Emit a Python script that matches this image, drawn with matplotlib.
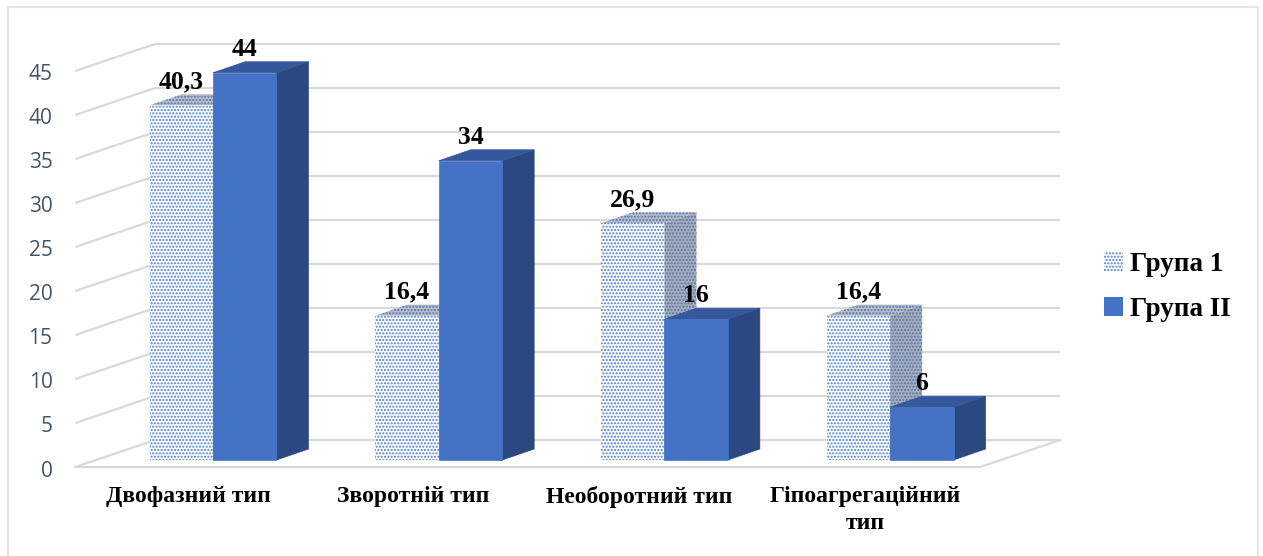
import matplotlib.pyplot as plt
from matplotlib.patches import Polygon, Patch, Rectangle
import numpy as np

categories = ["Двофазний тип", "Зворотній тип", "Необоротний тип", "Гіпоагрегаційний\nтип"]
series_names = ["Група 1", "Група II"]
group1 = [40.3, 16.4, 26.9, 16.4]
group2 = [44, 34, 16, 6]
label1 = ["40,3", "16,4", "26,9", "16,4"]
label2 = ["44", "34", "16", "6"]
yticks = [0, 5, 10, 15, 20, 25, 30, 35, 40, 45]

plt.rcParams['font.family'] = ['Liberation Serif', 'DejaVu Serif']

fig = plt.figure(figsize=(12.63, 5.56), dpi=100)
ax = fig.add_axes([60 / 1263, 86 / 556, 1010 / 1263, 440 / 556])
ax.set_xlim(-0.678, 3.797)
ax.set_ylim(-1.136, 48.86)
ax.axis('off')

# outer frame (open at the bottom)
fig.patches.append(Rectangle((7.5 / 1263, -0.05), 1250 / 1263, 1.05 - 6.5 / 556,
                             transform=fig.transFigure, fill=False,
                             edgecolor='#e1e4e9', linewidth=1.5))

# 3d box: wall depth and bar depth in data units
wall_dx, wall_dy = 0.3545, 3.07
front_dy = -0.8
wall_left = -0.611
floor_right = 3.398
bar_w = 0.281
bar_dx, bar_dy = 0.1418, 1.25

grid_col = '#d9d9d9'
for v in yticks:
    yf = v + front_dy
    yb = yf + wall_dy
    ax.plot([wall_left, wall_left + wall_dx, floor_right + wall_dx], [yf, yb, yb],
            color=grid_col, lw=1.6, zorder=1, solid_capstyle='butt')
    ax.text(wall_left - 0.1, yf - 0.45, str(v), ha='right', va='center',
            fontsize=15, color='#44546a', family=['Open Sans', 'DejaVu Sans'])
# floor front edge
ax.plot([wall_left, floor_right, floor_right + wall_dx], [front_dy, front_dy, front_dy + wall_dy],
        color=grid_col, lw=1.6, zorder=1)

g1_style = dict(front=('white', '#4a7bd0'), top=('#b9bec6', '#4f74b8'), side=('#a9aeb6', '#4f74b8'))
g2_style = dict(front=('#4472c4', None), top=('#35589c', None), side=('#2b4882', None))


def draw_bar(x0, h, style, z):
    x1 = x0 + bar_w
    faces = {
        'side': [(x1, 0), (x1 + bar_dx, bar_dy), (x1 + bar_dx, h + bar_dy), (x1, h)],
        'top': [(x0, h), (x0 + bar_dx, h + bar_dy), (x1 + bar_dx, h + bar_dy), (x1, h)],
        'front': [(x0, 0), (x0, h), (x1, h), (x1, 0)],
    }
    for k, name in enumerate(['side', 'top', 'front']):
        fc, hc = style[name]
        if hc is None:
            p = Polygon(faces[name], closed=True, facecolor=fc, edgecolor=fc, lw=0.5, zorder=z + k)
        else:
            p = Polygon(faces[name], closed=True, facecolor=fc, edgecolor=hc, lw=0,
                        hatch='.....', zorder=z + k)
        ax.add_patch(p)


x = np.arange(len(categories))
for i in range(len(categories)):
    draw_bar(x[i] - bar_w, group1[i], g1_style, 10 + 10 * i)
    draw_bar(x[i], group2[i], g2_style, 14 + 10 * i)
    ax.text(x[i] - bar_w / 2, group1[i] + bar_dy + 0.1, label1[i], ha='center', va='bottom',
            fontsize=18.5, fontweight='bold', zorder=100)
    ax.text(x[i] + bar_w / 2, group2[i] + bar_dy + 0.1, label2[i], ha='center', va='bottom',
            fontsize=18.5, fontweight='bold', zorder=100)
    ax.text(x[i] - 0.111, -3.0, categories[i], ha='center', va='top', fontsize=17,
            fontweight='bold', linespacing=1.35)

handles = [Patch(facecolor='white', edgecolor='#4a7bd0', lw=0, hatch='.....'),
           Patch(facecolor='#4472c4', edgecolor='#4472c4', lw=0)]
fig.legend(handles, series_names, loc='center left', bbox_to_anchor=(1080 / 1263, 1 - 287 / 556),
           frameon=False, prop=dict(size=19.5, weight='bold'), handlelength=0.7,
           handleheight=0.7, handletextpad=0.25, labelspacing=0.75)

fig.savefig('out.png', dpi=100)
